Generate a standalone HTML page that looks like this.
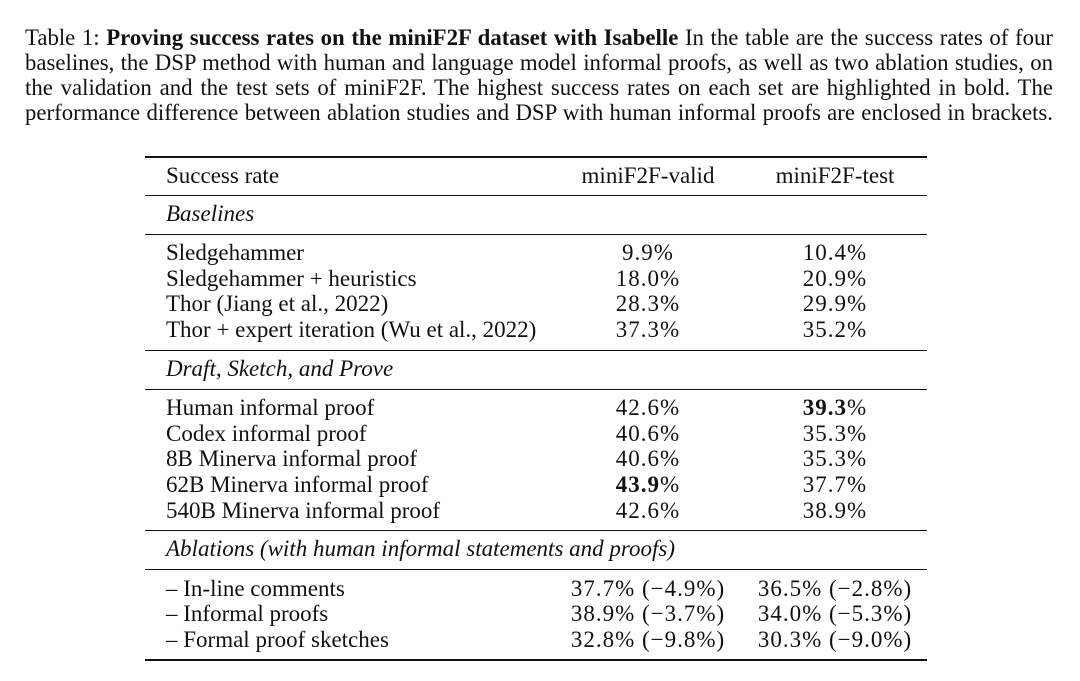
<!DOCTYPE html>
<html><head><meta charset="utf-8">
<style>
body{margin:0;background:#fff;width:1080px;height:681px;position:relative;overflow:hidden;font-family:"Liberation Serif",serif;color:#111;}
.cap{position:absolute;left:25px;width:1028px;font-size:22.8px;line-height:24px;text-align:justify;text-align-last:justify;white-space:nowrap;}
.t{position:absolute;font-size:23px;line-height:24px;white-space:nowrap;}
.c1,.c2{position:absolute;width:220px;text-align:center;font-size:23px;line-height:24px;white-space:nowrap;letter-spacing:1px;}
.c1{left:538px}
.c2{left:725px}
.h{letter-spacing:0}
.r{position:absolute;left:145px;width:782px;background:#111;}
i{font-style:italic}
</style></head><body>
<div class="cap" style="top:26px">Table 1: <b>Proving success rates on the miniF2F dataset with Isabelle</b> In the table are the success rates of four</div>
<div class="cap" style="top:51px">baselines, the DSP method with human and language model informal proofs, as well as two ablation studies, on</div>
<div class="cap" style="top:76px">the validation and the test sets of miniF2F. The highest success rates on each set are highlighted in bold. The</div>
<div class="cap" style="top:101px">performance difference between ablation studies and DSP with human informal proofs are enclosed in brackets.</div>

<div class="r" style="top:156px;height:2px"></div>
<div class="r" style="top:195px;height:1px"></div>
<div class="r" style="top:234px;height:1px"></div>
<div class="r" style="top:350px;height:1px"></div>
<div class="r" style="top:389px;height:1px"></div>
<div class="r" style="top:530px;height:1px"></div>
<div class="r" style="top:569px;height:1px"></div>
<div class="r" style="top:659px;height:2px"></div>

<div class="t" style="left:166px;top:164px">Success rate</div>
<div class="c1 h" style="top:164px">miniF2F-valid</div>
<div class="c2 h" style="top:164px">miniF2F-test</div>

<div class="t" style="left:166px;top:202px"><i>Baselines</i></div>
<div class="t" style="left:166px;top:241px">Sledgehammer</div>
<div class="c1" style="top:241px">9.9%</div>
<div class="c2" style="top:241px">10.4%</div>
<div class="t" style="left:166px;top:267px">Sledgehammer + heuristics</div>
<div class="c1" style="top:267px">18.0%</div>
<div class="c2" style="top:267px">20.9%</div>
<div class="t" style="left:166px;top:292px">Thor (Jiang et al., 2022)</div>
<div class="c1" style="top:292px">28.3%</div>
<div class="c2" style="top:292px">29.9%</div>
<div class="t" style="left:166px;top:318px">Thor + expert iteration (Wu et al., 2022)</div>
<div class="c1" style="top:318px">37.3%</div>
<div class="c2" style="top:318px">35.2%</div>

<div class="t" style="left:166px;top:357px"><i>Draft, Sketch, and Prove</i></div>
<div class="t" style="left:166px;top:396px">Human informal proof</div>
<div class="c1" style="top:396px">42.6%</div>
<div class="c2" style="top:396px"><b>39.3</b>%</div>
<div class="t" style="left:166px;top:422px">Codex informal proof</div>
<div class="c1" style="top:422px">40.6%</div>
<div class="c2" style="top:422px">35.3%</div>
<div class="t" style="left:166px;top:447px">8B Minerva informal proof</div>
<div class="c1" style="top:447px">40.6%</div>
<div class="c2" style="top:447px">35.3%</div>
<div class="t" style="left:166px;top:473px">62B Minerva informal proof</div>
<div class="c1" style="top:473px"><b>43.9</b>%</div>
<div class="c2" style="top:473px">37.7%</div>
<div class="t" style="left:166px;top:499px">540B Minerva informal proof</div>
<div class="c1" style="top:499px">42.6%</div>
<div class="c2" style="top:499px">38.9%</div>

<div class="t" style="left:166px;top:537px"><i>Ablations (with human informal statements and proofs)</i></div>
<div class="t" style="left:166px;top:577px">– In-line comments</div>
<div class="c1" style="top:577px">37.7% (−4.9%)</div>
<div class="c2" style="top:577px">36.5% (−2.8%)</div>
<div class="t" style="left:166px;top:602px">– Informal proofs</div>
<div class="c1" style="top:602px">38.9% (−3.7%)</div>
<div class="c2" style="top:602px">34.0% (−5.3%)</div>
<div class="t" style="left:166px;top:628px">– Formal proof sketches</div>
<div class="c1" style="top:628px">32.8% (−9.8%)</div>
<div class="c2" style="top:628px">30.3% (−9.0%)</div>
</body></html>
